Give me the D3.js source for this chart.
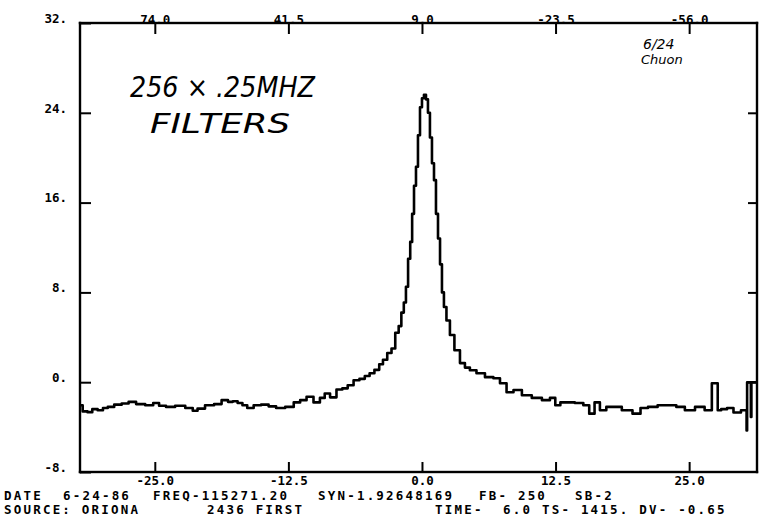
<!DOCTYPE html>
<html>
<head>
<meta charset="utf-8">
<script src="https://cdn.jsdelivr.net/npm/d3@7"></script>
<style>
  body { margin: 0; background: #fff; }
  svg { display: block; }
  .mono { font-family: "DejaVu Sans Mono", monospace; font-weight: bold; }
  .hand { font-family: "DejaVu Sans", sans-serif; font-style: italic; }
</style>
</head>
<body>
<div id="spectrum"></div>
<script>
// frequency offset (MHz) and antenna temperature
var freq = [
  -32.0, -31.5, -31.1, -30.6, -30.1, -29.6, -29.2, -28.4, -27.8, -27.1,
  -26.4, -25.4, -24.9, -24.3, -23.6, -22.6, -21.7, -21.2, -20.8, -19.8,
  -19.1, -18.4, -17.9, -17.5, -17.0, -16.6, -16.1, -15.4, -14.7, -14.0,
  -13.3, -12.3, -11.7, -11.1, -10.5, -9.8, -9.3, -8.9, -8.3, -7.7,
  -7.2, -6.7, -6.1, -5.6, -5.1, -4.7, -4.2, -3.8, -3.5, -3.0,
  -2.7, -2.3, -2.06, -1.8, -1.6, -1.4, -1.2, -1.0, -0.84, -0.65,
  -0.47, -0.28, -0.09, 0.09, 0.28, 0.47, 0.65, 0.84, 1.03, 1.22,
  1.4, 1.6, 1.78, 1.96, 2.15, 2.43, 2.8, 3.27, 3.84, 4.2,
  4.77, 5.43, 6.36, 7.0, 7.6, 8.23, 8.9, 9.8, 10.75, 11.7,
  12.25, 12.7, 13.2, 13.8, 14.8, 15.4, 15.9, 16.4, 16.9, 17.6,
  18.2, 19.2, 20.2, 20.7, 21.6, 22.5, 23.5, 24.1, 25.1, 26.0,
  26.9, 27.1, 27.15, 27.65, 27.7, 28.3, 28.8, 29.5, 30.2, 30.35,
  30.4, 30.45, 30.75, 30.8, 30.85, 31.35
];
var temp = [
  -2.05, -2.6, -2.67, -2.4, -2.5, -2.3, -2.2, -2.0, -1.9, -1.75,
  -1.95, -2.05, -1.85, -2.1, -2.2, -2.1, -2.3, -2.55, -2.35, -2.05,
  -1.95, -1.6, -1.75, -1.7, -1.85, -2.05, -2.3, -2.05, -2.0, -2.15,
  -2.3, -2.2, -1.8, -1.6, -1.3, -1.8, -1.4, -1.0, -1.35, -0.65,
  -0.55, -0.27, 0.18, 0.3, 0.55, 0.8, 1.1, 1.6, 2.0, 2.6,
  3.0, 4.4, 5.0, 6.2, 7.1, 8.5, 11.0, 12.5, 15.0, 17.5,
  19.2, 22.0, 24.5, 25.3, 25.6, 25.2, 24.0, 21.8, 19.5, 18.0,
  15.0, 12.8, 10.5, 8.0, 6.7, 5.5, 4.2, 2.85, 1.7, 1.3,
  1.07, 0.8, 0.45, 0.35, -0.1, -0.9, -0.7, -1.16, -1.4, -1.6,
  -1.4, -2.05, -1.8, -1.8, -1.85, -2.05, -2.8, -1.8, -2.5, -2.2,
  -2.2, -2.5, -2.8, -2.3, -2.2, -2.05, -2.05, -2.2, -2.5, -2.2,
  -2.5, -2.5, -0.1, -0.1, -2.5, -2.4, -2.3, -2.7, -2.5, -2.5,
  -4.3, 0.0, 0.0, -3.1, 0.0, 0.0
];

var xTicks = [-25, -12.5, 0, 12.5, 25];
var yTicks = [32, 24, 16, 8, 0, -8];
var velTicks = [74.0, 41.5, 9.0, -23.5, -56.0];

var headerLine1 = [
  {text: "DATE", x: 4},
  {text: "6-24-86", x: 63},
  {text: "FREQ-115271.20", x: 153},
  {text: "SYN-1.92648169", x: 318},
  {text: "FB- 250", x: 479},
  {text: "SB-2", x: 575}
];
var headerLine2 = [
  {text: "SOURCE: ORIONA", x: 4},
  {text: "2436 FIRST", x: 207},
  {text: "TIME-  6.0 TS- 1415. DV- -0.65", x: 435}
];

var W = 759, H = 526;
var margin = {top: 23, right: 2, bottom: 54, left: 80};
var width = W - margin.left - margin.right;
var height = H - margin.top - margin.bottom;

var svg = d3.select("#spectrum")
    .append("svg")
    .attr("width", W)
    .attr("height", H)
    .append("g")
    .attr("transform", "translate(" + margin.left + "," + margin.top + ")");

var x = d3.scaleLinear()
    .domain([-32, 31.35])
    .range([0, width]);

var y = d3.scaleLinear()
    .domain([-8, 32])
    .range([height, 0]);

// velocity (km/s) runs the other way along the top
var vel = d3.scaleLinear()
    .domain([9.0 - 2.6 * -32, 9.0 - 2.6 * 31.35])
    .range([0, width]);

function styleAxis(g) {
    g.select(".domain").remove();
    g.selectAll(".tick line").attr("stroke-width", 2);
    g.selectAll(".tick text")
        .attr("class", "mono")
        .style("font-size", "12.5px")
        .attr("fill", "#000");
}

// plot frame: four filled bars
var x0 = x.range()[0], x1 = x.range()[1];
var y0 = y.range()[1], y1 = y.range()[0];
var bw = 2.4;
var frame = [
  {x: x0 - bw / 2, y: y0 - bw / 2, w: x1 - x0 + bw, h: bw},
  {x: x0 - bw / 2, y: y1 - bw / 2, w: x1 - x0 + bw, h: bw},
  {x: x0 - bw / 2, y: y0 - bw / 2, w: bw, h: y1 - y0 + bw},
  {x: x1 - bw / 2, y: y0 - bw / 2, w: bw, h: y1 - y0 + bw}
];
svg.append("g")
    .selectAll("rect")
    .data(frame)
    .enter()
    .append("rect")
    .attr("x", d => d.x)
    .attr("y", d => d.y)
    .attr("width", d => d.w)
    .attr("height", d => d.h)
    .attr("fill", "#000");

// bottom axis (MHz)
svg.append("g")
    .attr("transform", "translate(0," + height + ")")
    .call(d3.axisBottom(x)
        .tickValues(xTicks)
        .tickSize(-10)
        .tickPadding(4)
        .tickFormat(d => d.toFixed(1)))
    .call(styleAxis);

// top axis (km/s)
var topAxis = svg.append("g")
    .call(d3.axisTop(vel)
        .tickValues(velTicks)
        .tickSize(-11)
        .tickPadding(0)
        .tickFormat(d => d.toFixed(1)))
    .call(styleAxis);
topAxis.selectAll(".tick text").attr("dy", "0.05em");

// left axis
var leftAxis = svg.append("g")
    .call(d3.axisLeft(y)
        .tickValues(yTicks)
        .tickSize(-11)
        .tickPadding(13)
        .tickFormat(d => d + "."))
    .call(styleAxis);
leftAxis.selectAll(".tick text").attr("dy", "-0.05em");

// right axis, ticks only
svg.append("g")
    .attr("transform", "translate(" + width + ",0)")
    .call(d3.axisRight(y)
        .tickValues([24, 16, 8, 0])
        .tickSize(-9)
        .tickFormat(""))
    .call(styleAxis);

svg.append("clipPath")
    .attr("id", "plotclip")
    .append("rect")
    .attr("width", width)
    .attr("height", height);

// channel spectrum, drawn as steps like the filter bank output
var line = d3.line()
    .x((d, i) => x(freq[i]))
    .y(d => y(d))
    .curve(d3.curveStep);

svg.append("path")
    .datum(temp)
    .attr("clip-path", "url(#plotclip)")
    .attr("d", line)
    .attr("fill", "none")
    .attr("stroke", "#000")
    .attr("stroke-width", 2.6)
    .attr("stroke-linejoin", "round");

// hand-written notes on the chart
var root = d3.select("#spectrum svg");
root.append("text")
    .attr("class", "hand")
    .attr("x", 130).attr("y", 97)
    .attr("textLength", 185)
    .attr("lengthAdjust", "spacingAndGlyphs")
    .style("font-size", "28px")
    .text("256 × .25MHZ");
root.append("text")
    .attr("class", "hand")
    .attr("x", 150).attr("y", 133)
    .attr("textLength", 140)
    .attr("lengthAdjust", "spacingAndGlyphs")
    .style("font-size", "26px")
    .text("FILTERS");
root.append("text")
    .attr("class", "hand")
    .attr("x", 643).attr("y", 49)
    .style("font-size", "14px")
    .text("6/24");
root.append("text")
    .attr("class", "hand")
    .attr("x", 641).attr("y", 64)
    .style("font-size", "13px")
    .text("Chuon");

// header lines under the plot
function header(rows, baseline) {
    root.append("g")
        .selectAll("text")
        .data(rows)
        .enter()
        .append("text")
        .attr("class", "mono")
        .attr("x", d => d.x)
        .attr("y", baseline)
        .style("font-size", "12.5px")
        .style("letter-spacing", "2.2px")
        .style("white-space", "pre")
        .text(d => d.text);
}
header(headerLine1, 500);
header(headerLine2, 514);
</script>
</body>
</html>
